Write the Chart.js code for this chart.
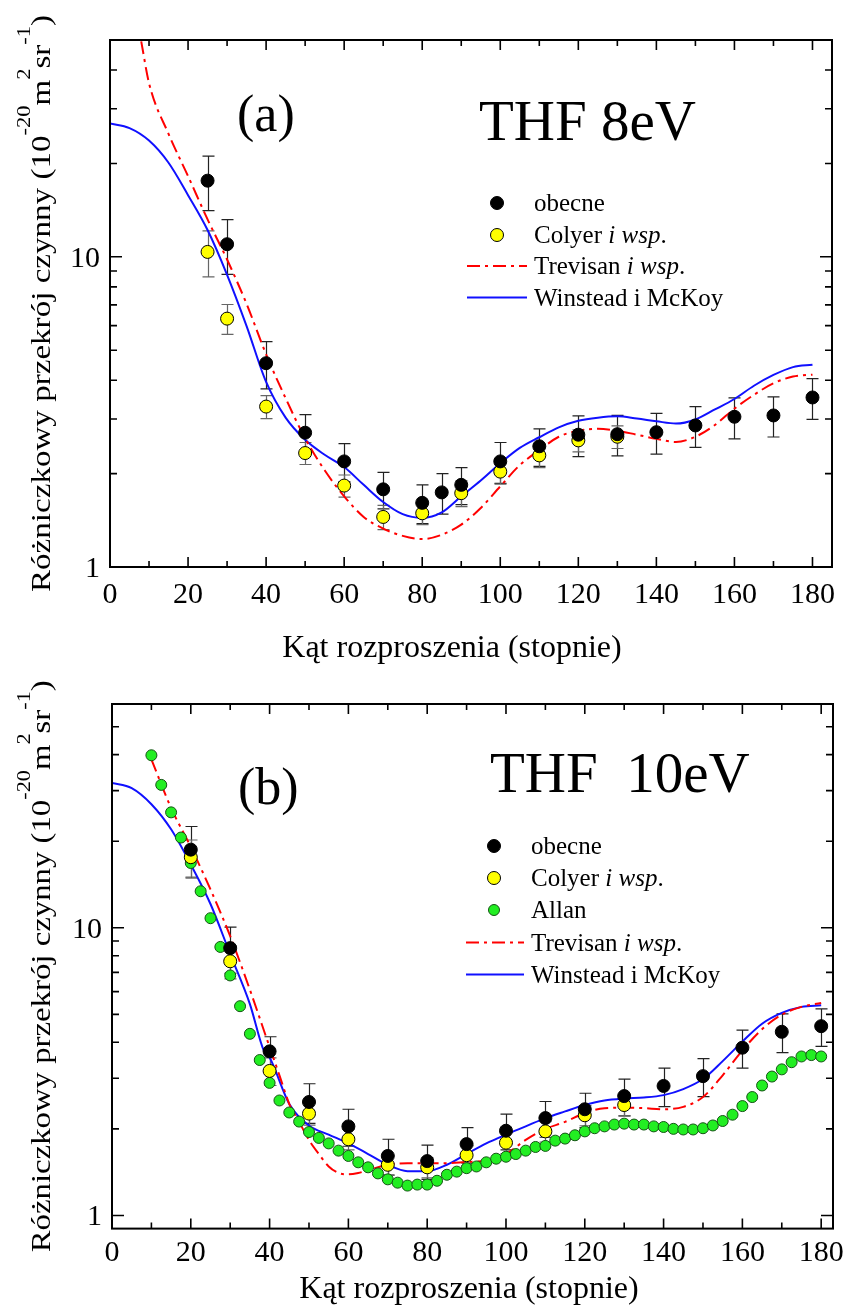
<!DOCTYPE html>
<html><head><meta charset="utf-8">
<script src="https://cdn.jsdelivr.net/npm/chart.js@4/dist/chart.umd.min.js"></script>
<style>
html,body{margin:0;padding:0;background:#fff;}
#wrap{position:relative;width:843px;height:1313px;background:#fff;}
canvas{position:absolute;left:0;}
</style></head><body>
<div id="wrap">
<canvas id="ca" width="843" height="672" style="top:0;width:843px;height:672px"></canvas>
<canvas id="cb" width="843" height="641" style="top:672px;width:843px;height:641px"></canvas>
</div>
<script>
// ---------- tick values / labels ----------
const xTickVals = [0,20,40,60,80,100,120,140,160,180];
const xTickLabels = ['0','20','40','60','80','100','120','140','160','180'];
const xMinorTicks = [10,30,50,70,90,110,130,150,170];
const yTickVals = [1,10];
const yTickLabels = ['1','10'];
const yMinorTicks = [2,3,4,5,6,7,8,9,20,30,40,50];

// ---------- panel (a): THF 8 eV ----------
const angA_obecne = [25,30,40,50,60,70,80,85,90,100,110,120,130,140,150,160,170,180];
const dcsA_obecne = [17.6,10.98,4.54,2.71,2.19,1.78,1.61,1.74,1.84,2.19,2.45,2.67,2.68,2.72,2.86,3.05,3.08,3.52];
const errA_obecne = [3.5,2.2,0.79,0.39,0.31,0.24,0.23,0.26,0.25,0.33,0.34,0.40,0.40,0.41,0.43,0.46,0.455,0.53];

const angA_colyer = [25,30,40,50,60,70,80,90,100,110,120,130];
const dcsA_colyer = [10.37,6.32,3.29,2.33,1.83,1.45,1.49,1.73,2.03,2.29,2.56,2.63];
const errA_colyer = [1.75,0.70,0.28,0.19,0.15,0.13,0.12,0.165,0.18,0.20,0.21,0.22];

const angA_trevisan = [8,10,15,20,25,30,35,40,45,50,55,60,65,70,75,80,85,90,95,100,105,110,115,120,125,130,135,140,145,150,155,160,165,170,175,180];
const dcsA_trevisan = [49.5,36.3,24.9,18.2,13.2,9.8,7.05,4.85,3.50,2.60,2.05,1.69,1.45,1.33,1.26,1.23,1.27,1.37,1.55,1.82,2.13,2.38,2.63,2.75,2.79,2.75,2.67,2.59,2.53,2.63,2.87,3.24,3.59,3.91,4.11,4.17];

const angA_winstead = [0,5,10,15,20,25,30,35,40,45,50,55,60,65,70,75,80,85,90,95,100,105,110,115,120,125,130,135,140,145,150,155,160,165,170,175,180];
const dcsA_winstead = [26.9,26.0,23.7,20.1,15.8,12.2,8.75,5.98,3.95,3.03,2.57,2.30,2.10,1.84,1.62,1.48,1.44,1.50,1.69,1.90,2.16,2.42,2.62,2.82,2.96,3.03,3.06,3.01,2.95,2.90,2.99,3.22,3.48,3.84,4.16,4.41,4.49];

// ---------- panel (b): THF 10 eV ----------
const angB_obecne = [20,30,40,50,60,70,80,90,100,110,120,130,140,150,160,170,180];
const dcsB_obecne = [18.7,8.5,3.72,2.48,2.04,1.61,1.545,1.77,1.97,2.18,2.34,2.60,2.82,3.05,3.83,4.35,4.55];
const errB_obecne = [3.8,1.55,0.46,0.39,0.30,0.23,0.21,0.25,0.28,0.31,0.32,0.38,0.43,0.46,0.58,0.67,0.68];

const angB_colyer = [20,30,40,50,60,70,80,90,100,110,120,130];
const dcsB_colyer = [17.6,7.65,3.18,2.26,1.84,1.50,1.47,1.62,1.79,1.96,2.23,2.42];
const errB_colyer = [2.6,1.0,0.35,0.20,0.15,0.12,0.12,0.13,0.15,0.16,0.18,0.20];

const angB_allan = [10,12.5,15,17.5,20,22.5,25,27.5,30,32.5,35,37.5,40,42.5,45,47.5,50,52.5,55,57.5,60,62.5,65,67.5,70,72.5,75,77.5,80,82.5,85,87.5,90,92.5,95,97.5,100,102.5,105,107.5,110,112.5,115,117.5,120,122.5,125,127.5,130,132.5,135,137.5,140,142.5,145,147.5,150,152.5,155,157.5,160,162.5,165,167.5,170,172.5,175,177.5,180];
const dcsB_allan = [39.8,31.4,25.2,20.6,16.8,13.4,10.8,8.58,6.83,5.34,4.28,3.47,2.89,2.51,2.28,2.12,1.95,1.86,1.78,1.68,1.61,1.53,1.47,1.40,1.335,1.30,1.27,1.28,1.28,1.32,1.385,1.42,1.46,1.48,1.53,1.575,1.60,1.635,1.68,1.73,1.745,1.82,1.85,1.90,1.96,2.01,2.04,2.07,2.085,2.07,2.07,2.04,2.03,2.00,1.99,1.99,2.01,2.055,2.13,2.24,2.40,2.58,2.83,3.04,3.22,3.41,3.57,3.61,3.57];

const angB_trevisan = [10,15,20,25,30,35,40,42.5,45,47.5,50,52.5,55,57.5,60,62.5,65,70,75,80,85,90,95,100,105,110,115,120,125,130,135,140,145,150,155,160,165,170,175,180];
const dcsB_trevisan = [38.5,26.1,19.1,13.6,9.35,6.09,3.85,3.07,2.44,2.115,1.83,1.635,1.48,1.405,1.39,1.405,1.437,1.50,1.52,1.52,1.52,1.535,1.55,1.635,1.83,2.00,2.115,2.27,2.36,2.37,2.36,2.34,2.385,2.58,3.07,3.75,4.44,4.99,5.31,5.48];

const angB_winstead = [0,5,10,15,20,25,30,35,38.5,40,45,50,55,60,65,70,75,80,85,90,95,100,105,110,115,120,125,130,135,140,145,150,155,160,165,170,175,180];
const dcsB_winstead = [31.9,30.6,26.9,22.0,16.6,12.1,8.10,5.43,3.75,3.54,2.44,2.055,1.91,1.78,1.635,1.50,1.425,1.425,1.50,1.635,1.78,1.91,2.04,2.18,2.30,2.42,2.51,2.55,2.57,2.62,2.75,2.98,3.44,4.02,4.64,5.06,5.31,5.38];

// ---------- styling ----------
const FONT = '"Liberation Serif", "Times New Roman", serif';
const RED = '#ff0000', BLUE = '#1010ff';
const DASHDOT = [13,5,3,5];

function pts(xs, ys){ return xs.map((x,i)=>({x:x, y:ys[i]})); }

function pointSet(label, xs, ys, errs, fill, border, r, errColor){
  return {label, data: pts(xs,ys), errs, errColor, showLine:false,
    pointRadius:r, pointHoverRadius:r, pointBackgroundColor:fill, pointBorderColor:border, pointBorderWidth:1};
}
function lineSet(label, xs, ys, color, dash){
  return {label, data: pts(xs,ys), showLine:true, pointRadius:0, borderColor:color, borderWidth:2,
    borderDash:dash||[], cubicInterpolationMode:'monotone', fill:false};
}

function drawRich(ctx, parts, x, y, size){
  for (const p of parts){
    ctx.font = (p.it ? 'italic ' : '') + size + 'px ' + FONT;
    ctx.fillText(p.t, x, y);
    x += ctx.measureText(p.t).width;
  }
}

function makeDeco(cfg){
  return {
    id:'deco'+cfg.id,
    beforeDatasetsDraw(chart){
      const {ctx, chartArea:ca, scales:{x, y}} = chart;
      ctx.save();
      ctx.beginPath(); ctx.rect(ca.left, ca.top, ca.right-ca.left, ca.bottom-ca.top); ctx.clip();
      chart.data.datasets.forEach(ds=>{
        if(!ds.errs) return;
        ctx.strokeStyle = ds.errColor; ctx.lineWidth = 1.2;
        ds.data.forEach((p,i)=>{
          const e = ds.errs[i];
          const px = Math.round(x.getPixelForValue(p.x))+0.5;
          const y1 = y.getPixelForValue(p.y+e), y2 = y.getPixelForValue(p.y-e);
          ctx.beginPath();
          ctx.moveTo(px, y1); ctx.lineTo(px, y2);
          ctx.moveTo(px-6, y1); ctx.lineTo(px+6, y1);
          ctx.moveTo(px-6, y2); ctx.lineTo(px+6, y2);
          ctx.stroke();
        });
      });
      ctx.restore();
    },
    afterDraw(chart){
      const {ctx, chartArea:ca, scales:{x, y}} = chart;
      ctx.save();
      // frame
      ctx.strokeStyle = '#000'; ctx.lineWidth = 2;
      ctx.strokeRect(ca.left, ca.top, ca.right-ca.left, ca.bottom-ca.top);
      ctx.lineWidth = 1.6;
      ctx.beginPath();
      const xt = (v,len)=>{ const p = x.getPixelForValue(v);
        ctx.moveTo(p, ca.bottom); ctx.lineTo(p, ca.bottom-len);
        ctx.moveTo(p, ca.top); ctx.lineTo(p, ca.top+len); };
      const yt = (v,len)=>{ const p = y.getPixelForValue(v);
        if (p < ca.top+1 || p > ca.bottom-1) return;
        ctx.moveTo(ca.left, p); ctx.lineTo(ca.left+len, p);
        ctx.moveTo(ca.right, p); ctx.lineTo(ca.right-len, p); };
      xTickVals.forEach(v=>xt(v,10));
      xMinorTicks.forEach(v=>xt(v,6));
      yTickVals.forEach(v=>yt(v,12));
      yMinorTicks.forEach(v=>yt(v,7));
      ctx.stroke();

      ctx.fillStyle = '#000';
      ctx.textBaseline = 'alphabetic';
      // tick labels (positions from the chart's own scales)
      ctx.font = '30px ' + FONT;
      ctx.textAlign = 'center';
      xTickVals.forEach((v,i)=>ctx.fillText(xTickLabels[i], x.getPixelForValue(v), ca.bottom + cfg.xLabOff));
      ctx.textAlign = 'right';
      yTickVals.forEach((v,i)=>ctx.fillText(yTickLabels[i], ca.left - 10, y.getPixelForValue(v) + 10));

      ctx.textAlign = 'left';
      // panel letter and title
      ctx.font = '52px ' + FONT;
      ctx.fillText(cfg.letter, cfg.letterX, cfg.letterY);
      ctx.font = '57px ' + FONT;
      ctx.fillText(cfg.title, cfg.titleX, cfg.titleY);

      // legend
      cfg.legend.forEach((it, i)=>{
        const ry = cfg.legY[i];
        if (it.kind === 'pt'){
          ctx.beginPath(); ctx.arc(cfg.legMarkX, ry, it.r, 0, Math.PI*2);
          ctx.fillStyle = it.fill; ctx.fill();
          ctx.strokeStyle = it.border; ctx.lineWidth = 1; ctx.stroke();
        } else {
          ctx.beginPath(); ctx.setLineDash(it.dash); ctx.strokeStyle = it.color; ctx.lineWidth = 2;
          ctx.moveTo(cfg.legLine[0], ry); ctx.lineTo(cfg.legLine[1], ry); ctx.stroke();
          ctx.setLineDash([]);
        }
        ctx.fillStyle = '#000';
        drawRich(ctx, it.text, cfg.legTextX, ry+8, 25);
      });

      // x title
      ctx.font = '32px ' + FONT; ctx.textAlign = 'center';
      ctx.fillText('Kąt rozproszenia (stopnie)', cfg.xTitleX, cfg.xTitleY);

      // y title (rotated, with superscripts)
      const main = 28, sup = 19, raise = 20;
      const parts = [
        {t:'Różniczkowy przekrój czynny (10', s:false},
        {t:'-20', s:true}, {t:'m', s:false}, {t:'2', s:true},
        {t:'sr', s:false}, {t:'-1', s:true}, {t:')', s:false}];
      ctx.textAlign = 'left';
      let total = 0;
      parts.forEach(p=>{ ctx.font = (p.s?sup:main)+'px '+FONT; p.w = ctx.measureText(p.t).width; total += p.w; });
      const stretch = cfg.yTitleLen / total;
      ctx.translate(cfg.yTitleX, (ca.top+ca.bottom)/2);
      ctx.rotate(-Math.PI/2);
      ctx.scale(stretch, 1);
      let px = -total/2;
      parts.forEach(p=>{ ctx.font = (p.s?sup:main)+'px '+FONT; ctx.fillText(p.t, px, p.s ? -raise : 0); px += p.w; });
      ctx.restore();
    }
  };
}

function buildChart(id, g, datasets, deco){
  return new Chart(document.getElementById(id), {
    type:'scatter',
    data:{datasets},
    options:{
      responsive:false, animation:false, devicePixelRatio:1,
      layout:{autoPadding:false, padding:{left:0, right:843-g.right, top:g.top, bottom:0}},
      plugins:{legend:{display:false}, tooltip:{enabled:false}},
      events:[],
      scales:{
        x:{type:'linear', min:0, max:g.xMax,
          grid:{display:false, drawTicks:false}, border:{display:false},
          afterBuildTicks:s=>{ s.ticks = xTickVals.map(v=>({value:v})); },
          afterFit:s=>{ s.height = g.H - g.bottom; },
          ticks:{display:false}},
        y:{type:'logarithmic', min:g.yMin, max:g.yMax,
          grid:{display:false, drawTicks:false}, border:{display:false},
          afterBuildTicks:s=>{ s.ticks = yTickVals.map(v=>({value:v})); },
          afterFit:s=>{ s.width = g.left; },
          ticks:{display:false}}
      }
    },
    plugins:[deco]
  });
}

const legBlack = {kind:'pt', r:6.5, fill:'#000', border:'#000', text:[{t:'obecne'}]};
const legYellow = {kind:'pt', r:6.5, fill:'#ffff00', border:'#000', text:[{t:'Colyer '},{t:'i wsp', it:true},{t:'.'}]};
const legGreen = {kind:'pt', r:5.5, fill:'#22ee22', border:'#145214', text:[{t:'Allan'}]};
const legRed = {kind:'ln', color:RED, dash:DASHDOT, text:[{t:'Trevisan '},{t:'i wsp', it:true},{t:'.'}]};
const legBlue = {kind:'ln', color:BLUE, dash:[], text:[{t:'Winstead i McKoy'}]};

// panel (a)  (canvas top = 0)
buildChart('ca', {H:672, left:110, right:832, top:40, bottom:567, xMax:185, yMin:1, yMax:50}, [
  pointSet('obecne', angA_obecne, dcsA_obecne, errA_obecne, '#000', '#000', 6.5, '#222'),
  pointSet('Colyer i wsp.', angA_colyer, dcsA_colyer, errA_colyer, '#ffff00', '#000', 6.5, '#666'),
  lineSet('Trevisan i wsp.', angA_trevisan, dcsA_trevisan, RED, DASHDOT),
  lineSet('Winstead i McKoy', angA_winstead, dcsA_winstead, BLUE)
], makeDeco({id:'a', letter:'(a)', letterX:237, letterY:131, title:'THF 8eV', titleX:479, titleY:140, xLabOff:36,
  legend:[legBlack, legYellow, legRed, legBlue], legY:[203,235,266,297.5], legMarkX:497, legLine:[467,527], legTextX:534,
  xTitleX:452, xTitleY:657, yTitleX:50, yTitleLen:577}));

// panel (b)  (canvas top = 672)
buildChart('cb', {H:641, left:112, right:833, top:32, bottom:556.6, xMax:183, yMin:0.9, yMax:60}, [
  pointSet('obecne', angB_obecne, dcsB_obecne, errB_obecne, '#000', '#000', 6.5, '#222'),
  pointSet('Colyer i wsp.', angB_colyer, dcsB_colyer, errB_colyer, '#ffff00', '#000', 6.5, '#666'),
  pointSet('Allan', angB_allan, dcsB_allan, null, '#22ee22', '#145214', 5.5, null),
  lineSet('Trevisan i wsp.', angB_trevisan, dcsB_trevisan, RED, DASHDOT),
  lineSet('Winstead i McKoy', angB_winstead, dcsB_winstead, BLUE)
], makeDeco({id:'b', letter:'(b)', letterX:238, letterY:132, title:'THF  10eV', titleX:490, titleY:120, xLabOff:32,
  legend:[legBlack, legYellow, legGreen, legRed, legBlue], legY:[174,206,238,270.5,302.6], legMarkX:494, legLine:[466,524], legTextX:531,
  xTitleX:469, xTitleY:626, yTitleX:50, yTitleLen:572}));
</script>
</body></html>
